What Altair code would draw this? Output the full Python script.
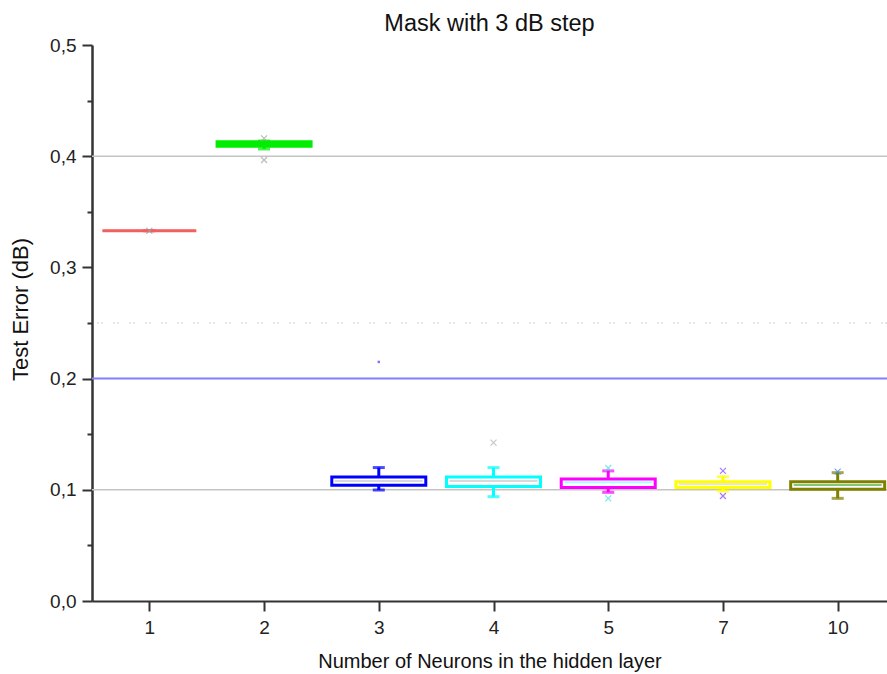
import altair as alt
import pandas as pd

# ---- data ----
categories = ["1", "2", "3", "4", "5", "7", "10"]
q1 = [0.333, 0.409, 0.104, 0.103, 0.102, 0.102, 0.1005]
q3 = [0.333, 0.413, 0.1115, 0.1115, 0.1097, 0.1073, 0.1073]
medians = [0.333, 0.411, 0.108, 0.108, 0.1067, 0.105, 0.1043]
whisk_lo = [0.333, 0.4065, 0.0998, 0.0938, 0.0977, 0.0989, 0.0923]
whisk_hi = [0.333, 0.4137, 0.120, 0.120, 0.117, 0.1118, 0.1154]

box_colors = ["#f26060", "#00ee00", "#0000ff", "#00ffff", "#ff00ff", "#ffff00", "#808000"]
box_fills = ["#f26060", "#00ee00", "#ffffff", "#ffffff", "#ffffff", "#ffffff", "#ffffff"]
median_colors = ["#f26060", "#00ee00", "#c8c8c8", "#c8c8c8", "#80ffff", "#d8d8b0", "#4caf3c"]

outlier_cat = ["1", "2", "2", "4", "5", "5", "7", "7", "10"]
outlier_val = [0.333, 0.416, 0.3966, 0.1424, 0.1196, 0.0923, 0.117, 0.0944, 0.1163]
outlier_col = ["#a0a0a0", "#a0a0a0", "#a0a0a0", "#b0b0b0", "#40e0e0", "#40e0e0",
               "#8040ff", "#8040ff", "#4080ff"]

dot_cat = ["3"]
dot_val = [0.215]

grey_lines = [0.1, 0.4]
blue_lines = [0.2]
dotted_lines = [0.25]

y_ticks = [0.0, 0.05, 0.1, 0.15, 0.2, 0.25, 0.3, 0.35, 0.4, 0.45, 0.5]

title_text = "Mask with 3 dB step"

# ---- tables ----
pos = {c: i + 1 for i, c in enumerate(categories)}
boxes = pd.DataFrame({
    "cat": categories,
    "pos": [pos[c] for c in categories],
    "q1": q1, "q3": q3, "med": medians, "lo": whisk_lo, "hi": whisk_hi,
    "color": box_colors, "fill": box_fills, "medcol": median_colors,
})
outliers = pd.DataFrame({
    "pos": [pos[c] for c in outlier_cat], "val": outlier_val, "color": outlier_col,
})
dots = pd.DataFrame({"pos": [pos[c] for c in dot_cat], "val": dot_val})

FONT = "Liberation Sans"
label_arr = "[" + ",".join("'%s'" % c for c in categories) + "]"

x_enc = alt.X(
    "pos:Q",
    scale=alt.Scale(domain=[0.5, 7.43], nice=False, zero=False, padding=0),
    axis=alt.Axis(
        values=list(range(1, len(categories) + 1)),
        labelExpr=label_arr + "[datum.value - 1]",
        title="Number of Neurons in the hidden layer",
        grid=False, tickSize=10, tickWidth=2, tickColor="#333333",
        domainColor="#333333", domainWidth=2,
        labelFont=FONT, labelFontSize=19, labelColor="#222222", labelPadding=7,
        titleFont=FONT, titleFontSize=20, titleFontWeight="normal", titleColor="#111111",
        titleBaseline="alphabetic", titleY=66,
    ),
)
y_scale = alt.Scale(domain=[0, 0.5], nice=False, zero=False, padding=0)
y_axis = alt.Axis(
    values=y_ticks,
    labelExpr="round(datum.value*20) % 2 == 1 ? '' : replace(format(datum.value, '.1f'), '.', ',')",
    title="Test Error (dB)",
    grid=False,
    tickSize={"condition": {"test": "round(datum.value*20) % 2 == 1", "value": 5}, "value": 10},
    tickWidth=2, tickColor="#333333",
    domainColor="#333333", domainWidth=2.5,
    labelFont=FONT, labelFontSize=19, labelColor="#222222", labelPadding=6,
    titleFont=FONT, titleFontSize=22, titleFontWeight="normal", titleColor="#111111",
    titleBaseline="alphabetic", titleX=-65, titleY=264, titleAngle=270,
)

base = alt.Chart(boxes)

grey = alt.Chart(pd.DataFrame({"v": grey_lines})).mark_rule(
    color="#c4c4c4", strokeWidth=1.5).encode(y=alt.Y("v:Q", scale=y_scale, axis=y_axis))
blue = alt.Chart(pd.DataFrame({"v": blue_lines})).mark_rule(
    color="#8080ff", strokeWidth=2).encode(y="v:Q")
dotted = alt.Chart(pd.DataFrame({"v": dotted_lines})).mark_rule(
    color="#d0d0d0", strokeWidth=1.2, strokeDash=[2, 2, 2, 10]).encode(y="v:Q")

whisk = base.mark_rule(strokeWidth=3).encode(
    x=x_enc, y="lo:Q", y2="hi:Q", color=alt.Color("color:N", scale=None))
cap_lo = base.mark_tick(orient="horizontal", size=12, thickness=3).encode(
    x="pos:Q", y="lo:Q", color=alt.Color("color:N", scale=None))
cap_hi = base.mark_tick(orient="horizontal", size=12, thickness=3).encode(
    x="pos:Q", y="hi:Q", color=alt.Color("color:N", scale=None))
box = base.mark_bar(size=94, strokeWidth=3).encode(
    x="pos:Q", y="q1:Q", y2="q3:Q",
    fill=alt.Fill("fill:N", scale=None), stroke=alt.Stroke("color:N", scale=None))
med = base.mark_tick(orient="horizontal", size=88, thickness=2).encode(
    x="pos:Q", y="med:Q", color=alt.Color("medcol:N", scale=None))

out = alt.Chart(outliers).mark_point(
    shape="M-1,-1L1,1M-1,1L1,-1", size=36, strokeWidth=1.2, filled=False).encode(
    x="pos:Q", y="val:Q", stroke=alt.Stroke("color:N", scale=None))
dot = alt.Chart(dots).mark_square(size=6, color="#4040ff").encode(x="pos:Q", y="val:Q")

title = alt.Chart(pd.DataFrame({"t": [title_text]})).mark_text(
    font=FONT, fontSize=23.5, color="#111111", align="center", baseline="alphabetic").encode(
    text="t:N", x=alt.value(397.5), y=alt.value(-14))

chart = alt.layer(grey, blue, dotted, whisk, box, med, cap_lo, cap_hi, out, dot, title).properties(
    width=795, height=556,
    autosize=alt.AutoSizeParams(type="none"),
    padding={"left": 92, "top": 45, "right": 0, "bottom": 73},
    background="white",
).configure_view(strokeWidth=0, stroke="transparent")

chart.save("out.html", embed_options={"renderer": "svg", "actions": False})
